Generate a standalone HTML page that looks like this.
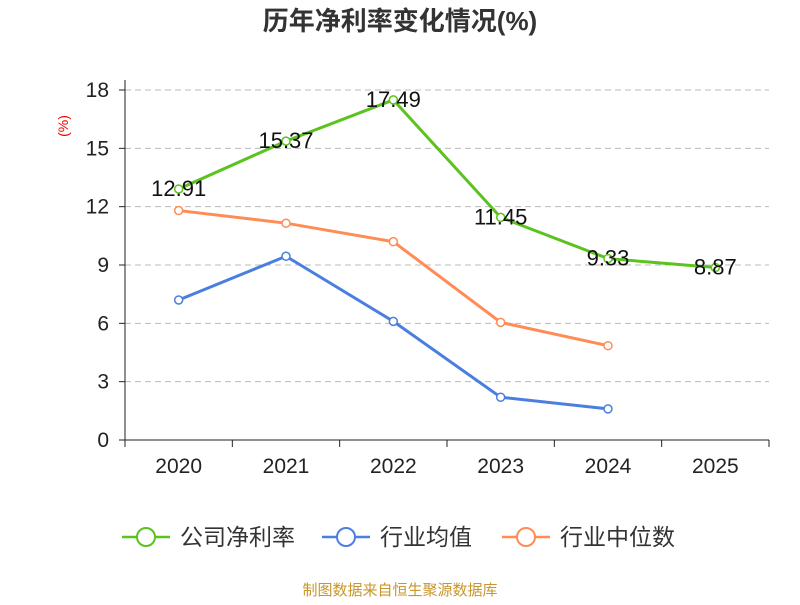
<!DOCTYPE html>
<html><head><meta charset="utf-8"><style>
body{margin:0;background:#fff;font-family:"Liberation Sans","Noto Sans CJK SC",sans-serif}
</style></head><body>
<svg id="c" width="800" height="600" xmlns="http://www.w3.org/2000/svg" style="font-family:'Liberation Sans','Noto Sans CJK SC',sans-serif">
<text x="400" y="30" text-anchor="middle" font-size="26" font-weight="bold" fill="#333">历年净利率变化情况(%)</text>
<text x="68" y="126" text-anchor="middle" font-size="14" fill="#e00" transform="rotate(-90 68 126)">(%)</text>
<g id="grid"></g><g id="axes"></g><g id="series"></g>
<g>
<g><line x1="122" y1="537" x2="170" y2="537" stroke="#5bc21e" stroke-width="2.5"/><circle cx="146" cy="537" r="9" fill="#fff" stroke="#5bc21e" stroke-width="2"/><text x="180" y="545" font-size="23" fill="#333">公司净利率</text></g>
<g><line x1="322" y1="537" x2="370" y2="537" stroke="#4a7fe0" stroke-width="2.5"/><circle cx="346" cy="537" r="9" fill="#fff" stroke="#4a7fe0" stroke-width="2"/><text x="380" y="545" font-size="23" fill="#333">行业均值</text></g>
<g><line x1="502" y1="537" x2="550" y2="537" stroke="#ff8c55" stroke-width="2.5"/><circle cx="526" cy="537" r="9" fill="#fff" stroke="#ff8c55" stroke-width="2"/><text x="560" y="545" font-size="23" fill="#333">行业中位数</text></g>
</g>
<text x="400" y="595" text-anchor="middle" font-size="15" fill="#c8962a">制图数据来自恒生聚源数据库</text>
</svg>
<script>
const categories=["2020","2021","2022","2023","2024","2025"];
const company=[12.91,15.37,17.49,11.45,9.33,8.87];
const industryAvg=[7.2,9.45,6.1,2.2,1.6];
const industryMedian=[11.8,11.15,10.2,6.05,4.85];
const yTicks=[0,3,6,9,12,15,18];
const NS="http://www.w3.org/2000/svg";
const x0=125,x1=769,yb=440,yt=90,ymax=18;
const bw=(x1-x0)/categories.length;
const X=i=>x0+bw*(i+0.5);
const Y=v=>yb-(v/ymax)*(yb-yt);
function mk(t,a,p){const e=document.createElementNS(NS,t);for(const k in a)e.setAttribute(k,a[k]);p.appendChild(e);return e;}
const grid=document.getElementById('grid'),axes=document.getElementById('axes'),ser=document.getElementById('series');
yTicks.forEach(v=>{
 if(v>0){const l=mk('line',{x1:x0,x2:x1,y1:Y(v),y2:Y(v),stroke:'#bbb','stroke-dasharray':'6,4'},grid);
 }
 const t=mk('text',{x:x0-16,y:Y(v)+7,'text-anchor':'end','font-size':21,fill:'#222'},axes);t.textContent=v;
 
 mk('line',{x1:x0-6,x2:x0,y1:Y(v),y2:Y(v),stroke:'#222'},axes);
});
const ya=mk('line',{x1:x0,x2:x0,y1:yt-10,y2:yb,stroke:'#222'},axes);

const xa=mk('line',{x1:x0,x2:x1,y1:yb,y2:yb,stroke:'#222'},axes);

for(let i=0;i<=categories.length;i++)mk('line',{x1:x0+bw*i,x2:x0+bw*i,y1:yb,y2:yb+7,stroke:'#222'},axes);
categories.forEach((c,i)=>{const t=mk('text',{x:X(i),y:yb+33,'text-anchor':'middle','font-size':21,fill:'#222'},axes);t.textContent=c;
 });
function draw(d,col,name,labels){
 const g=mk('g',{},ser);
 mk('polyline',{points:d.map((v,i)=>X(i)+','+Y(v)).join(' '),fill:'none',stroke:col,'stroke-width':3},g);
 d.forEach((v,i)=>{const c=mk('circle',{cx:X(i),cy:Y(v),r:4,fill:'#fff',stroke:col,'stroke-width':1.5},g);
  
  if(labels){const t=mk('text',{x:X(i),y:Y(v)+7,'text-anchor':'middle','font-size':22,fill:'#111'},g);t.textContent=v.toFixed(2);
   }});
}
draw(industryMedian,'#ff8c55','industry-median-series',false);
draw(industryAvg,'#4a7fe0','industry-avg-series',false);
draw(company,'#5bc21e','company-series',true);
</script>
</body></html>
